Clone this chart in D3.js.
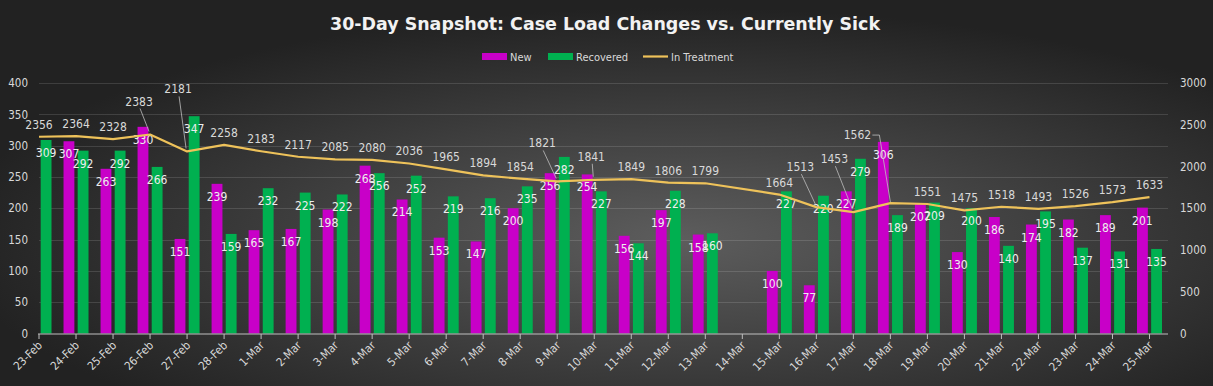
<!DOCTYPE html>
<html>
<head>
<meta charset="utf-8">
<script src="https://cdn.jsdelivr.net/npm/d3@7/dist/d3.min.js"></script>
<style>
  html, body { margin: 0; padding: 0; background: #2a2a2a; }
  svg { display: block; }
  text { font-family: "Liberation Sans Narrow", "DejaVu Sans Condensed", "Liberation Sans", sans-serif; }
</style>
</head>
<body>
<svg id="chart" width="1213" height="386"></svg>
<script>
const categories = ["23-Feb","24-Feb","25-Feb","26-Feb","27-Feb","28-Feb","1-Mar","2-Mar","3-Mar","4-Mar","5-Mar","6-Mar","7-Mar","8-Mar","9-Mar","10-Mar","11-Mar","12-Mar","13-Mar","14-Mar","15-Mar","16-Mar","17-Mar","18-Mar","19-Mar","20-Mar","21-Mar","22-Mar","23-Mar","24-Mar","25-Mar"];
const newCases = [null,307,263,330,151,239,165,167,198,268,214,153,147,200,256,254,156,197,158,null,100,77,227,306,207,130,186,174,182,189,201];
const recovered = [309,292,292,266,347,159,232,225,222,256,252,219,216,235,282,227,144,228,160,null,227,220,279,189,209,200,140,195,137,131,135];
const inTreatment = [2356,2364,2328,2383,2181,2258,2183,2117,2085,2080,2036,1965,1894,1854,1821,1841,1849,1806,1799,null,1664,1513,1453,1562,1551,1475,1518,1493,1526,1573,1633];
const leftTicks = [0,50,100,150,200,250,300,350,400];
const rightTicks = [0,500,1000,1500,2000,2500,3000];
const seriesNames = ["New","Recovered","In Treatment"];

const colors = { New: "#C800C8", Recovered: "#00B050", "In Treatment": "#EEC25A" };

const svg = d3.select("#chart");
const W = 1213, H = 386;
const plot = { left: 39, right: 1168, top: 83, bottom: 333.5 };

// background
const defs = svg.append("defs");
const rg = defs.append("radialGradient").attr("id", "bg")
  .attr("cx", 0.56).attr("cy", 0.62).attr("r", 0.6);
rg.append("stop").attr("offset", "0%").attr("stop-color", "#5d5d5d");
rg.append("stop").attr("offset", "100%").attr("stop-color", "#222222");
svg.append("rect").attr("width", W).attr("height", H).attr("fill", "url(#bg)");

defs.append("clipPath").attr("id", "plotclip").append("rect")
  .attr("x", plot.left).attr("y", 0).attr("width", plot.right - plot.left).attr("height", H);

// scales
const x = d3.scaleBand().domain(categories).range([20.5, plot.right]).padding(0);
const cx = c => x(c) + x.bandwidth() / 2;
const xs = d3.scaleBand().domain(["New","Recovered"]).range([-12.5, 12.5]).paddingInner(0.233).paddingOuter(0);
const yL = d3.scaleLinear().domain([0, 400]).range([plot.bottom, plot.top]);
const yR = d3.scaleLinear().domain([0, 3000]).range([plot.bottom, plot.top]);

// title
svg.append("text").attr("x", 605).attr("y", 30).attr("text-anchor", "middle")
  .attr("fill", "#f2f2f2").attr("font-size", 18.5).attr("font-weight", "bold")
  .attr("textLength", 550).attr("lengthAdjust", "spacingAndGlyphs")
  .text("30-Day Snapshot: Case Load Changes vs. Currently Sick");

// legend
const lg = svg.append("g").attr("font-size", 11).attr("fill", "#d9d9d9");
lg.append("rect").attr("x", 482).attr("y", 53).attr("width", 25).attr("height", 7).attr("fill", colors.New);
lg.append("text").attr("x", 510).attr("y", 60.5).attr("fill", "#d9d9d9").text(seriesNames[0]);
lg.append("rect").attr("x", 548).attr("y", 53).attr("width", 25).attr("height", 7).attr("fill", colors.Recovered);
lg.append("text").attr("x", 576).attr("y", 60.5).attr("fill", "#d9d9d9").text(seriesNames[1]);
lg.append("line").attr("x1", 643).attr("x2", 668).attr("y1", 56.5).attr("y2", 56.5)
  .attr("stroke", colors["In Treatment"]).attr("stroke-width", 2.2);
lg.append("text").attr("x", 671).attr("y", 60.5).attr("fill", "#d9d9d9").text(seriesNames[2]);

// gridlines
svg.append("g").selectAll("line").data(leftTicks.slice(1)).join("line")
  .attr("x1", plot.left).attr("x2", plot.right)
  .attr("y1", d => Math.round(yL(d)) + 0.5).attr("y2", d => Math.round(yL(d)) + 0.5)
  .attr("stroke", "#ffffff").attr("stroke-opacity", 0.13).attr("stroke-width", 1);

// left axis
const gl = svg.append("g").attr("transform", `translate(${plot.left},0)`)
  .call(d3.axisLeft(yL).tickValues(leftTicks).tickSize(0).tickPadding(11).tickFormat(d3.format("d")));
gl.select(".domain").remove();
gl.selectAll("text").attr("fill", "#d9d9d9").attr("font-size", 11.5).attr("font-family", null);

// right axis
const gr = svg.append("g").attr("transform", `translate(${plot.right},0)`)
  .call(d3.axisRight(yR).tickValues(rightTicks).tickSize(0).tickPadding(12).tickFormat(d3.format("d")));
gr.select(".domain").remove();
gr.selectAll("text").attr("fill", "#d9d9d9").attr("font-size", 11.5).attr("font-family", null);

// bars
const rows = categories.map((c, i) => ({ c, New: newCases[i], Recovered: recovered[i], IT: inTreatment[i] }));
const barsG = svg.append("g").attr("clip-path", "url(#plotclip)");
["New","Recovered"].forEach(k => {
  barsG.selectAll("rect." + k).data(rows.filter(r => r[k] != null)).join("rect")
    .attr("class", k)
    .attr("x", r => cx(r.c) + xs(k)).attr("width", xs.bandwidth())
    .attr("y", r => yL(r[k])).attr("height", r => yL(0) - yL(r[k]))
    .attr("fill", colors[k]);
});

// bottom axis
svg.append("line").attr("x1", plot.left - 1).attr("x2", plot.right)
  .attr("y1", 334).attr("y2", 334).attr("stroke", "#bfbfbf").attr("stroke-width", 1);
const gb = svg.append("g").attr("transform", `translate(0,334)`)
  .call(d3.axisBottom(x).tickSize(5).tickSizeOuter(0));
gb.select(".domain").remove();
gb.selectAll(".tick line").attr("stroke", "#bfbfbf");
gb.selectAll(".tick text")
  .attr("fill", "#d9d9d9").attr("font-size", 11.5).attr("font-family", null)
  .attr("text-anchor", "end").attr("dy", null).attr("y", 0)
  .attr("transform", "translate(4,12) rotate(-45)");

// bar labels
const blG = svg.append("g").attr("font-size", 12).attr("fill", "#ededed").attr("text-anchor", "middle");
["New","Recovered"].forEach(k => {
  blG.selectAll("text." + k).data(rows.filter(r => r[k] != null)).join("text")
    .attr("class", k)
    .attr("x", r => cx(r.c) + xs(k) + xs.bandwidth() / 2)
    .attr("y", r => yL(r[k]) + 17)
    .text(r => r[k]);
});

// line
const lineData = rows.filter(r => r.IT != null);
svg.append("path").datum(lineData)
  .attr("fill", "none").attr("stroke", colors["In Treatment"]).attr("stroke-width", 2.2)
  .attr("stroke-linejoin", "round")
  .attr("d", d3.line().x(r => cx(r.c)).y(r => yR(r.IT)));

// line labels, with manual label moves (as in the original) and leader lines
const moved = {
  "26-Feb": { dx: -11, dy: -29 },
  "27-Feb": { dx: -9, dy: -58 },
  "9-Mar":  { dx: -15, dy: -34 },
  "10-Mar": { dx: -3, dy: -19 },
  "16-Mar": { dx: -16, dy: -36 },
  "17-Mar": { dx: -19, dy: -49 },
  "18-Mar": { dx: -33, dy: -64 }
};
const llG = svg.append("g").attr("font-size", 12).attr("fill", "#d9d9d9").attr("text-anchor", "middle");
lineData.forEach(r => {
  const px = cx(r.c), py = yR(r.IT);
  const m = moved[r.c];
  if (m) {
    const lx = px + m.dx, ly = py + m.dy;
    if (r.c === "18-Mar") {
      svg.append("polyline")
        .attr("points", `${lx + 15},${ly - 4} ${lx + 22},${ly - 4} ${px},${py - 1}`)
        .attr("fill", "none").attr("stroke", "#bfbfbf").attr("stroke-width", 0.8);
    } else {
      svg.append("line").attr("x1", lx + 1).attr("y1", ly + 3)
        .attr("x2", px - 1).attr("y2", py - 3)
        .attr("stroke", "#bfbfbf").attr("stroke-width", 0.8);
    }
    llG.append("text").attr("x", lx).attr("y", ly).text(r.IT);
  } else {
    llG.append("text").attr("x", px).attr("y", py - 8).text(r.IT);
  }
});
</script>
</body>
</html>
